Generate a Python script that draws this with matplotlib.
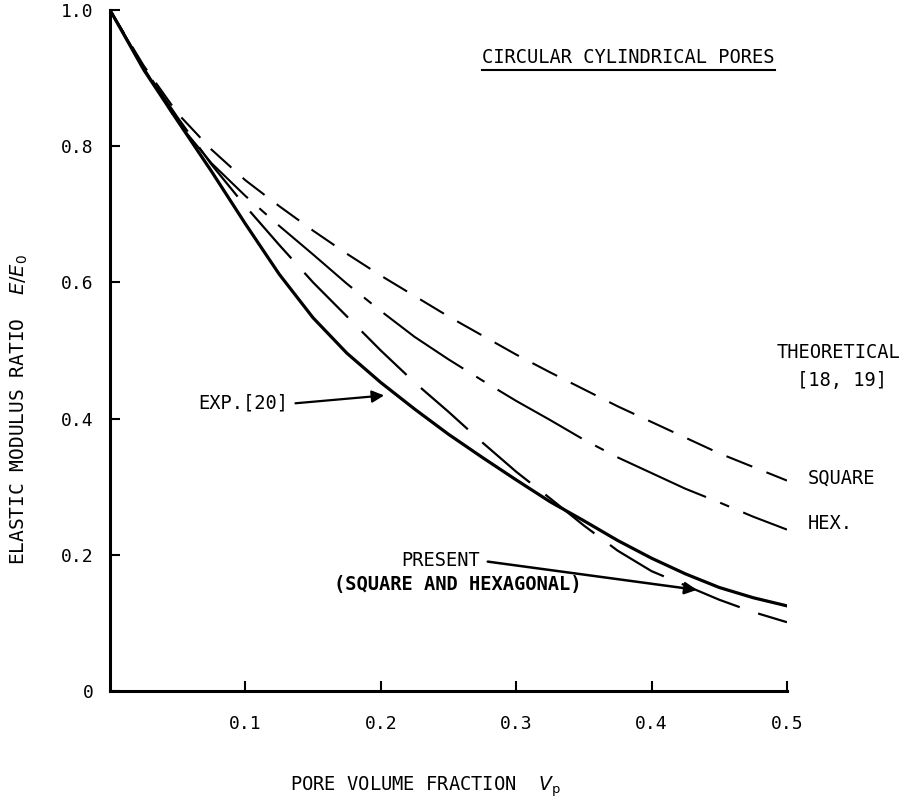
import numpy as np
import matplotlib.pyplot as plt
from matplotlib.lines import Line2D

plt.rcParams['font.family'] = ['DejaVu Sans Mono']
plt.rcParams['mathtext.fontset'] = 'dejavusans'
plt.rcParams['lines.scale_dashes'] = False

# pore volume fraction grid
vp = [0.0, 0.025, 0.05, 0.075, 0.1, 0.125, 0.15, 0.175, 0.2, 0.225, 0.25,
      0.275, 0.3, 0.325, 0.35, 0.375, 0.4, 0.425, 0.45, 0.475, 0.5]

# theoretical [18, 19]
square = [1.0, 0.918, 0.848, 0.795, 0.75, 0.712, 0.676, 0.642, 0.61, 0.58, 0.55,
          0.522, 0.494, 0.468, 0.443, 0.418, 0.395, 0.372, 0.349, 0.329, 0.309]
hexagonal = [1.0, 0.915, 0.835, 0.775, 0.727, 0.683, 0.641, 0.598, 0.558, 0.52, 0.487,
             0.456, 0.426, 0.398, 0.369, 0.343, 0.32, 0.297, 0.277, 0.256, 0.237]

# present (square and hexagonal)
present = [1.0, 0.915, 0.842, 0.773, 0.712, 0.655, 0.6, 0.55, 0.5, 0.453, 0.41,
           0.365, 0.322, 0.283, 0.243, 0.206, 0.176, 0.155, 0.134, 0.116, 0.101]

# experiment [20]
experiment = [1.0, 0.912, 0.837, 0.763, 0.686, 0.612, 0.548, 0.496, 0.453, 0.414, 0.377,
              0.343, 0.31, 0.278, 0.25, 0.221, 0.195, 0.172, 0.152, 0.137, 0.125]

x_ticks = [0.1, 0.2, 0.3, 0.4, 0.5]
y_ticks = [0, 0.2, 0.4, 0.6, 0.8, 1.0]
y_tick_labels = ['0', '0.2', '0.4', '0.6', '0.8', '1.0']

fig = plt.figure(figsize=(9, 8), dpi=100)
ax = fig.add_axes([0.1222, 0.13625, 0.7522, 0.85125])

ax.plot(vp, square, color='black', lw=1.5, ls=(0, (20, 11)))
ax.plot(vp, hexagonal, color='black', lw=1.5, ls=(0, (70, 11, 7, 11)))
ax.plot(vp, present, color='black', lw=1.6, ls=(0, (45, 14)))
ax.plot(vp, experiment, color='black', lw=2.3)

ax.set_xlim(0, 0.5)
ax.set_ylim(0, 1.0)
ax.spines['top'].set_visible(False)
ax.spines['right'].set_visible(False)
for s in ('left', 'bottom'):
    ax.spines[s].set_linewidth(2.2)

ax.set_xticks(x_ticks)
ax.set_xticklabels(['%.1f' % v for v in x_ticks])
ax.set_yticks(y_ticks)
ax.set_yticklabels(y_tick_labels)
ax.tick_params(direction='in', length=7, width=1.5, labelsize=13, colors='black')
ax.tick_params(axis='x', pad=17)
ax.tick_params(axis='y', pad=12)

txt = dict(fontsize=13.5, color='black', clip_on=False)

title = ax.text(0.383, 0.93, 'CIRCULAR CYLINDRICAL PORES', ha='center', va='center', **txt)

ax.text(0.538, 0.497, 'THEORETICAL', ha='center', va='center', **txt)
ax.text(0.541, 0.456, '[18, 19]', ha='center', va='center', **txt)
ax.text(0.5155, 0.312, 'SQUARE', ha='left', va='center', **txt)
ax.text(0.5155, 0.2456, 'HEX.', ha='left', va='center', **txt)

ax.text(0.1315, 0.4235, 'EXP.[20]', ha='right', va='center', **txt)
ax.annotate('', xy=(0.2025, 0.434), xytext=(0.137, 0.4225),
            arrowprops=dict(arrowstyle='-|>', color='black', lw=1.6,
                            mutation_scale=18, shrinkA=0, shrinkB=0))

ax.text(0.2445, 0.191, 'PRESENT', ha='center', va='center', **txt)
ax.text(0.257, 0.157, '(SQUARE AND HEXAGONAL)', ha='center', va='center',
        fontweight='bold', **txt)
ax.annotate('', xy=(0.4335, 0.1485), xytext=(0.279, 0.190),
            arrowprops=dict(arrowstyle='-|>', color='black', lw=1.8,
                            mutation_scale=18, shrinkA=0, shrinkB=0))

fig.text(0.022, 0.4875, r'ELASTIC MODULUS RATIO  $E/E_0$', rotation=90,
         ha='center', va='center', fontsize=14)
fig.text(0.473, 0.016, r'PORE VOLUME FRACTION  $V_\mathrm{p}$',
         ha='center', va='center', fontsize=13.5)

# underline the title
fig.canvas.draw()
bb = title.get_window_extent().transformed(fig.transFigure.inverted())
fig.add_artist(Line2D([bb.x0, bb.x1], [bb.y0 - 0.004, bb.y0 - 0.004],
                      transform=fig.transFigure, color='black', lw=1.5))

fig.savefig('out.png', dpi=100)
